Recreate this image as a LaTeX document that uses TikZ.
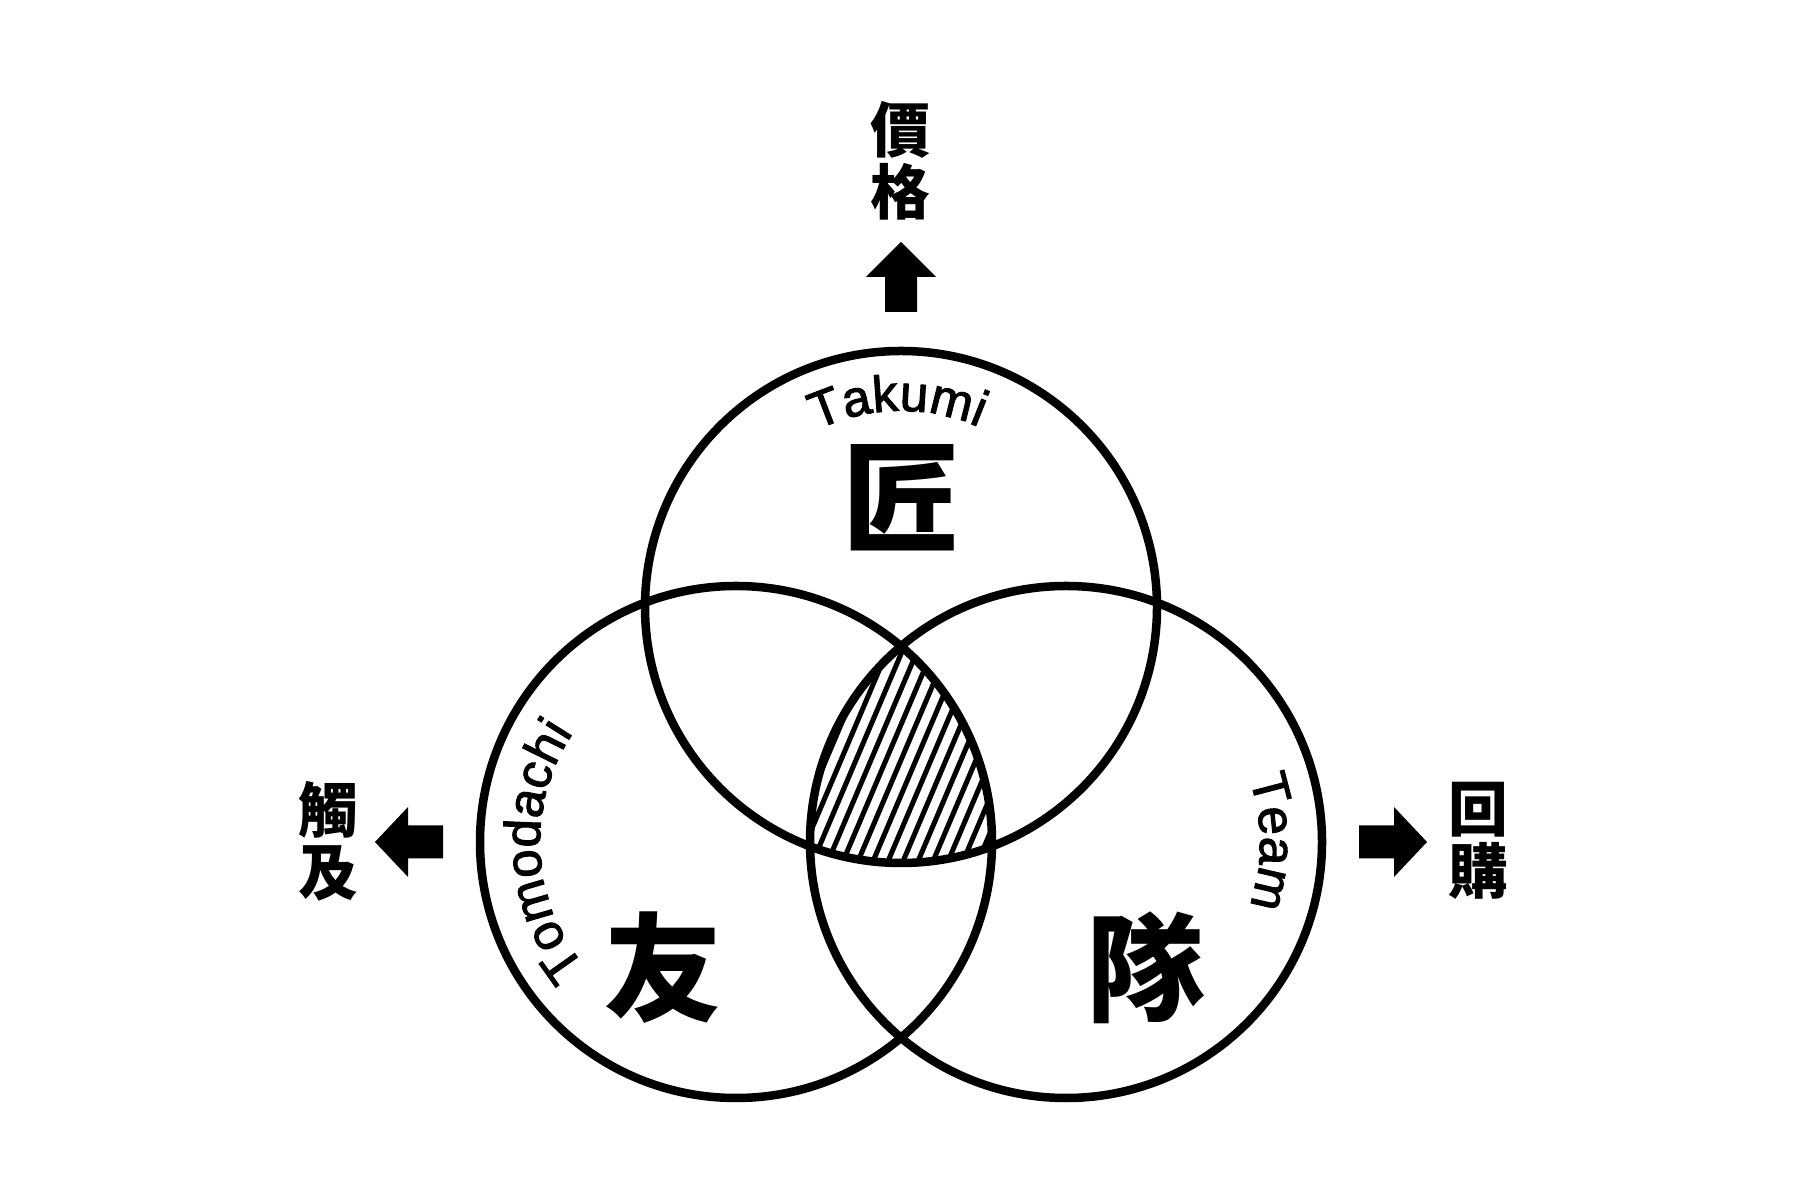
\documentclass[tikz,border=0pt]{standalone}
\usepackage{fontspec}
\setmainfont{Liberation Sans}
\newfontfamily\latinm{Liberation Sans}[FakeBold=2]
\newfontfamily\cjk{Noto Sans CJK TC}
\usetikzlibrary{decorations.text}
\newcommand\lblfont{\latinm\fontsize{14.5}{16}\selectfont}
\begin{document}
\begin{tikzpicture}[x=0.01cm,y=0.01cm,
  ring/.style={line width=0.085cm},
  hatchline/.style={line width=0.05cm},
  cjklabel/.style={font=\cjk\bfseries\fontsize{17}{17.6}\selectfont, align=center, inner sep=0pt},
  bigchar/.style={font=\cjk\bfseries\fontsize{33.5}{38}\selectfont, inner sep=0pt},
  blockarrow/.style={fill=black, draw=none}]
\fill[white] (0,0) rectangle (1800,1200);
\useasboundingbox (0,0) rectangle (1800,1200);
\coordinate (T) at (901,593);
\coordinate (L) at (736,358);
\coordinate (R) at (1066,358);
% hatching of the common region
\begin{scope}
  \clip (T) circle[radius=256];
  \clip (L) circle[radius=256];
  \clip (R) circle[radius=256];
  \foreach \k in {-20,...,20} {
    \draw[hatchline] ({901+15*\k-100},{440-235.5}) -- ({901+15*\k+100},{440+235.5});
  }
\end{scope}
% circles
\draw[ring] (T) circle[radius=256];
\draw[ring] (L) circle[radius=256];
\draw[ring] (R) circle[radius=256];
% curved labels
\path[decorate, decoration={text along path, text={|\lblfont|Takumi}, text align=center}]
  ([shift={(161:196)}]T) arc[start angle=161, end angle=21, radius=196];
\path[decorate, decoration={text along path, text={|\lblfont|Tomodachi}, text align=center}]
  ([shift={(263:196)}]L) arc[start angle=263, end angle=103, radius=196];
\path[decorate, decoration={text along path, text={|\lblfont|Team}, text align=center}]
  ([shift={(70:194)}]R) arc[start angle=70, end angle=-70, radius=194];
% big characters
\node[bigchar] (jiang) at (902,702) {匠};
\node[bigchar] (you) at (663,232) {友};
\node[bigchar] (dui) at (1145,232) {隊};
% side labels
\node[cjklabel] (price) at (900,1039) {價\\格};
\node[cjklabel] (reach) at (328,359) {觸\\及};
\node[cjklabel] (rebuy) at (1478,359) {回\\購};
% block arrows
\fill[blockarrow] (901,958) -- (936,923) -- (917,923) -- (917,888) -- (885,888) -- (885,923) -- (866,923) -- cycle;
\fill[blockarrow] (375,358) -- (408,393) -- (408,374.5) -- (443,374.5) -- (443,341.5) -- (408,341.5) -- (408,323) -- cycle;
\fill[blockarrow] (1427,358) -- (1394,393) -- (1394,374.5) -- (1359,374.5) -- (1359,341.5) -- (1394,341.5) -- (1394,323) -- cycle;
\end{tikzpicture}
\end{document}
